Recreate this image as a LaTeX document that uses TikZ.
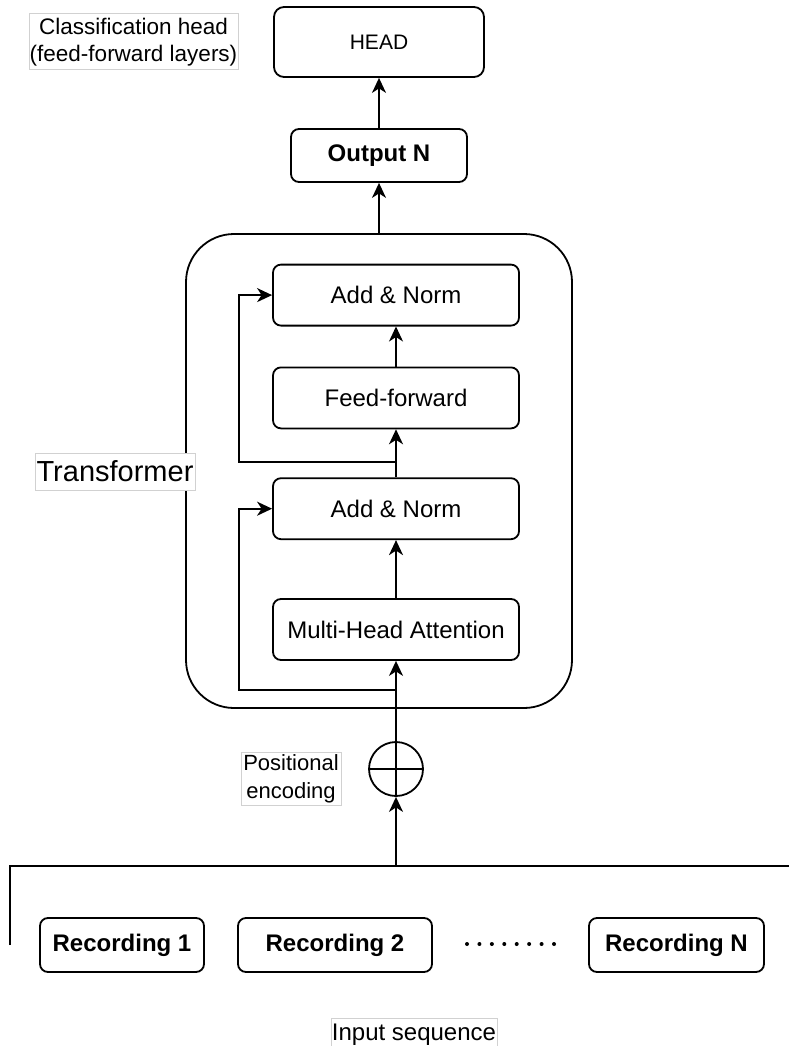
\documentclass[tikz,border=0pt]{standalone}
\usepackage{fontspec}
\setmainfont{Liberation Sans}
\usepackage{tikz}
\usetikzlibrary{positioning,arrows.meta}
\definecolor{lblclr}{rgb}{0.82, 0.82, 0.82}
\tikzset{ %
  ,>={Stealth[length=15pt, width=14pt, inset=4.5pt]}
  ,every node/.style={font=\fontsize{24}{28}\selectfont, inner sep=0}
  ,block/.style={draw, rounded corners=8pt, minimum width=246pt, minimum height=61pt}
  ,recbox/.style={draw, rounded corners=8pt, minimum height=54pt, font=\fontsize{24}{28}\selectfont\bfseries}
  ,lbl/.style={draw=lblclr, fill=white, align=center}
}

\begin{document}
\begin{tikzpicture}[x=1pt, y=-1pt, line width=1.8pt]
  \useasboundingbox (0,0) rectangle (789,1046);
  \node[draw, rounded corners=48pt, minimum width=386pt, minimum height=474pt] (trf) at (379,471) {};
  \draw
  node[block] (mha) at (396,629.5) {Multi-Head Attention}
  node[block, above=58pt of mha] (addnorm1) {Add \& Norm}
  node[block, above=48pt of addnorm1] (ffwd) {Feed-forward}
  node[block, above=40pt of ffwd] (addnorm2) {Add \& Norm};
  \draw
  node[block, minimum width=176pt, minimum height=53pt, font=\fontsize{24}{28}\selectfont\bfseries] (outn) at (379,155.5) {Output N}
  node[block, minimum width=210pt, minimum height=70pt, rounded corners=10pt, font=\fontsize{21}{25}\selectfont] (head) at (379,42) {HEAD};
  \node[draw, circle, minimum size=54pt] (plus) at (396,769) {};
  \draw (plus.north) -- (plus.south) (plus.west) -- (plus.east);
  % labels
  \node[lbl, line width=1pt, minimum width=209pt, minimum height=56pt, font=\fontsize{22.5}{27}\selectfont] (clsname) at (133.5,42) {Classification head\\(feed-forward layers)};
  \node[lbl, line width=1pt, minimum width=160pt, minimum height=37pt, font=\fontsize{29}{34}\selectfont] (trfname) at (115,471.5) {Transformer};
  \node[lbl, line width=1pt, minimum width=100pt, minimum height=53pt, font=\fontsize{22}{28}\selectfont] (posenc) at (291,778.5) {Positional\\encoding};
  \node[lbl, line width=1pt, minimum width=166pt, minimum height=32pt, anchor=north] (inseq) at (414,1018) {Input sequence};
  % input recordings
  \draw
  node[recbox, minimum width=164pt] (rec1) at (122,945) {Recording 1}
  node[recbox, minimum width=194pt] (rec2) at (335,945) {Recording 2}
  node[recbox, minimum width=175pt] (recn) at (676.5,945) {Recording N};
  \foreach \i in {0,...,7}
    \fill (467+\i*12.43,944) circle (2pt);
  % connectors
  \coordinate (barleft) at (10,945);
  \coordinate (barright) at (789,866);
  \coordinate (barmid) at (plus |- barright);
  \draw (barleft) |- (barright);
  \draw[->] (barmid) -- (plus);
  \draw[->] (plus) -- (mha);
  \coordinate (split1) at (396,690);
  \coordinate (res1) at (239,690);
  \draw[->] (split1) -- (res1) |- (addnorm1);
  \draw[->] (mha) -- (addnorm1);
  \draw[->] (addnorm1) -- (ffwd);
  \coordinate (split2) at (396,462);
  \coordinate (res2) at (239,462);
  \draw[->] (split2) -- (res2) |- (addnorm2);
  \draw[->] (ffwd) -- (addnorm2);
  \draw[->] (trf) -- (outn);
  \draw[->] (outn) -- (head);
\end{tikzpicture}
\end{document}
